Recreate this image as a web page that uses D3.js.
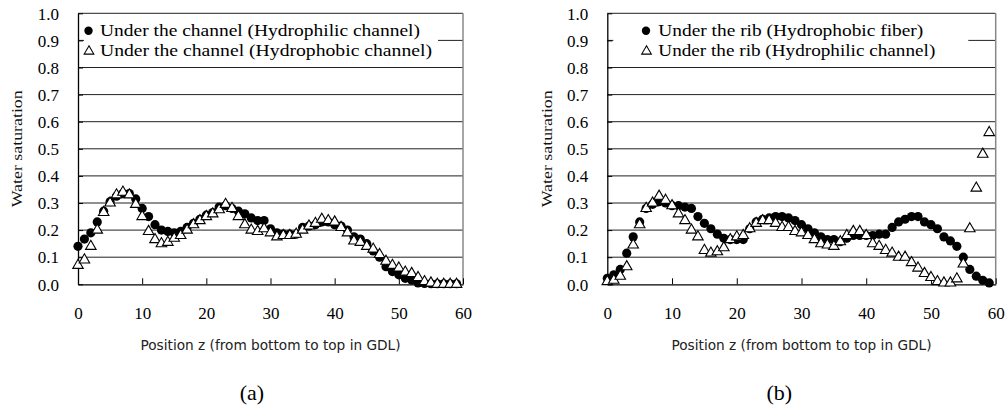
<!DOCTYPE html>
<html>
<head>
<meta charset="utf-8">
<script src="https://cdn.jsdelivr.net/npm/d3@7"></script>
<style>
  body { margin: 0; background: #fff; }
  svg { display: block; }
</style>
</head>
<body>
<div id="chart"></div>
<script>
// positions z (0..59)
const positions = [0,1,2,3,4,5,6,7,8,9,10,11,12,13,14,15,16,17,18,19,20,21,22,23,24,25,26,27,28,29,
  30,31,32,33,34,35,36,37,38,39,40,41,42,43,44,45,46,47,48,49,50,51,52,53,54,55,56,57,58,59];

// (a) under the channel
const aHydrophilic = [0.14,0.167,0.19,0.23,0.27,0.305,0.325,0.335,0.335,0.315,
  0.28,0.25,0.22,0.20,0.195,0.19,0.195,0.21,0.225,0.24,
  0.255,0.265,0.285,0.29,0.28,0.27,0.26,0.245,0.235,0.235,
  0.205,0.19,0.185,0.185,0.185,0.21,0.215,0.22,0.23,0.23,
  0.22,0.215,0.20,0.175,0.167,0.15,0.123,0.10,0.065,0.047,
  0.035,0.022,0.016,0.005,0.003,0.002,0.002,0.002,0.002,0.002];
const aHydrophobic = [0.07,0.09,0.14,0.20,0.265,0.30,0.33,0.34,0.33,0.295,
  0.25,0.195,0.165,0.15,0.155,0.17,0.18,0.20,0.22,0.235,
  0.25,0.26,0.275,0.295,0.28,0.25,0.22,0.20,0.195,0.205,
  0.19,0.175,0.18,0.18,0.185,0.20,0.215,0.225,0.24,0.235,
  0.23,0.21,0.19,0.16,0.155,0.14,0.13,0.11,0.085,0.07,
  0.06,0.045,0.04,0.025,0.01,0.005,0,0,0,0];

// (b) under the rib
const bHydrophobicFiber = [0.022,0.035,0.055,0.115,0.175,0.23,0.28,0.295,0.305,0.30,
  0.29,0.29,0.285,0.28,0.25,0.225,0.205,0.185,0.17,0.165,
  0.165,0.165,0.205,0.23,0.24,0.245,0.25,0.25,0.245,0.235,
  0.22,0.205,0.19,0.175,0.165,0.165,0.157,0.17,0.18,0.18,
  0.18,0.18,0.185,0.185,0.21,0.23,0.24,0.25,0.25,0.23,
  0.22,0.205,0.175,0.16,0.14,0.10,0.055,0.03,0.015,0.005];
const bHydrophilicChannel = [0.01,0.015,0.03,0.065,0.145,0.22,0.28,0.30,0.325,0.31,
  0.29,0.26,0.235,0.20,0.175,0.125,0.115,0.12,0.135,0.165,
  0.175,0.18,0.205,0.225,0.235,0.235,0.225,0.21,0.21,0.195,
  0.19,0.18,0.165,0.15,0.145,0.14,0.157,0.18,0.195,0.195,
  0.18,0.15,0.14,0.125,0.115,0.10,0.10,0.08,0.06,0.04,
  0.025,0.01,0.005,0.005,0.02,0.075,0.205,0.355,0.48,0.56];

const xTicks = [0,10,20,30,40,50,60];
const yTicks = [0,0.1,0.2,0.3,0.4,0.5,0.6,0.7,0.8,0.9,1.0];

const legendA = ["Under the channel (Hydrophilic channel)", "Under the channel (Hydrophobic channel)"];
const legendB = ["Under the rib (Hydrophobic fiber)", "Under the rib (Hydrophilic channel)"];

const svg = d3.select("#chart").append("svg")
  .attr("width", 1006)
  .attr("height", 409);

const serif = "'Liberation Serif', 'Times New Roman', serif";
const sans = "'DejaVu Sans', 'Noto Sans', sans-serif";

const tri = d3.symbol().type(d3.symbolTriangle).size(48);

function drawPanel(p) {
  const g = svg.append("g").attr("transform", `translate(${p.left},${p.top})`);
  const w = p.width, h = p.height;

  const x = d3.scaleLinear().domain([0, 60]).range([0, w]);
  const y = d3.scaleLinear().domain([0, 1]).range([h, 0]);

  // gridlines
  g.append("g")
    .selectAll("line")
    .data(yTicks.filter(d => d > 0))
    .join("line")
    .attr("x1", 0).attr("x2", w)
    .attr("y1", d => y(d)).attr("y2", d => y(d))
    .attr("stroke", "#222")
    .attr("stroke-width", 1);

  // plot border (right side grey)
  g.append("line")
    .attr("x1", w).attr("x2", w).attr("y1", 0).attr("y2", h)
    .attr("stroke", "#888").attr("stroke-width", 1.5);

  // y axis, inside ticks
  const yAxis = g.append("g")
    .call(d3.axisLeft(y).tickValues(yTicks).tickSizeInner(-5).tickSizeOuter(0)
      .tickFormat(d3.format(".1f")));
  yAxis.select(".domain").attr("stroke", "#000").attr("stroke-width", 1.3);
  yAxis.selectAll(".tick line").attr("stroke", "#000");
  yAxis.selectAll(".tick text")
    .attr("x", -19)
    .attr("dy", "0.34em")
    .attr("font-family", serif)
    .attr("font-size", 17)
    .attr("fill", "#000");

  // x axis, inside ticks
  const xAxis = g.append("g")
    .attr("transform", `translate(0,${h})`)
    .call(d3.axisBottom(x).tickValues(xTicks).tickSizeInner(-6).tickSizeOuter(0));
  xAxis.select(".domain").attr("stroke", "#000").attr("stroke-width", 1.3);
  xAxis.selectAll(".tick line").attr("stroke", "#000");
  xAxis.selectAll(".tick text")
    .attr("y", 29)
    .attr("dy", "0.34em")
    .attr("font-family", serif)
    .attr("font-size", 17)
    .attr("fill", "#000");

  // axis titles
  g.append("text")
    .attr("transform", `translate(${p.yLabelX},${h / 2}) rotate(-90)`)
    .attr("text-anchor", "middle")
    .attr("dy", "0.35em")
    .attr("font-family", serif)
    .attr("font-size", 14)
    .attr("textLength", 117)
    .attr("lengthAdjust", "spacingAndGlyphs")
    .attr("fill", "#111")
    .text("Water saturation");

  g.append("text")
    .attr("x", w / 2)
    .attr("y", h + 61)
    .attr("dy", "0.35em")
    .attr("text-anchor", "middle")
    .attr("font-family", sans)
    .attr("font-size", 14)
    .attr("textLength", 260)
    .attr("lengthAdjust", "spacingAndGlyphs")
    .attr("fill", "#222")
    .text("Position z (from bottom to top in GDL)");

  g.append("text")
    .attr("x", p.capX)
    .attr("y", h + 108)
    .attr("dy", "0.35em")
    .attr("text-anchor", "middle")
    .attr("font-family", serif)
    .attr("font-size", 22)
    .attr("fill", "#000")
    .text(p.caption);

  // data: circles first, triangles on top
  g.append("g")
    .selectAll("circle")
    .data(positions.map((z, i) => ({ z, v: p.s1[i] })))
    .join("circle")
    .attr("cx", d => x(d.z))
    .attr("cy", d => y(d.v))
    .attr("r", 4.6)
    .attr("fill", "#000");

  g.append("g")
    .selectAll("path")
    .data(positions.map((z, i) => ({ z, v: p.s2[i] })))
    .join("path")
    .attr("d", tri)
    .attr("transform", d => `translate(${x(d.z)},${y(d.v)})`)
    .attr("fill", "#fff")
    .attr("stroke", "#000")
    .attr("stroke-width", 1.1);

  // legend box (white, hides the 0.9 gridline)
  const lg = g.append("g");
  lg.append("rect")
    .attr("x", p.legX0).attr("y", 3)
    .attr("width", p.legX1 - p.legX0).attr("height", y(0.8) - 5)
    .attr("fill", "#fff");

  lg.append("circle")
    .attr("cx", p.legMark).attr("cy", 17.5)
    .attr("r", 4.2).attr("fill", "#000");
  lg.append("path")
    .attr("d", d3.symbol().type(d3.symbolTriangle).size(40))
    .attr("transform", `translate(${p.legMark + 0.5},38)`)
    .attr("fill", "#fff").attr("stroke", "#000").attr("stroke-width", 1.1);

  lg.selectAll("text")
    .data(p.legend)
    .join("text")
    .attr("x", p.legText)
    .attr("y", (d, i) => 23 + i * 20)
    .attr("font-family", serif)
    .attr("font-size", 17)
    .attr("textLength", (d, i) => p.legLen[i])
    .attr("lengthAdjust", "spacingAndGlyphs")
    .attr("fill", "#000")
    .text(d => d);
}

drawPanel({
  left: 78, top: 13.3, width: 385, height: 271,
  s1: aHydrophilic, s2: aHydrophobic,
  legend: legendA, legLen: [320, 332],
  legX0: 6, legX1: 360, legMark: 10.5, legText: 22,
  yLabelX: -61, capX: 174, caption: "(a)"
});

drawPanel({
  left: 607.3, top: 13.3, width: 388.4, height: 271,
  s1: bHydrophobicFiber, s2: bHydrophilicChannel,
  legend: legendB, legLen: [265, 277],
  legX0: 6, legX1: 361, legMark: 38.7, legText: 51,
  yLabelX: -60, capX: 172, caption: "(b)"
});
</script>
</body>
</html>
